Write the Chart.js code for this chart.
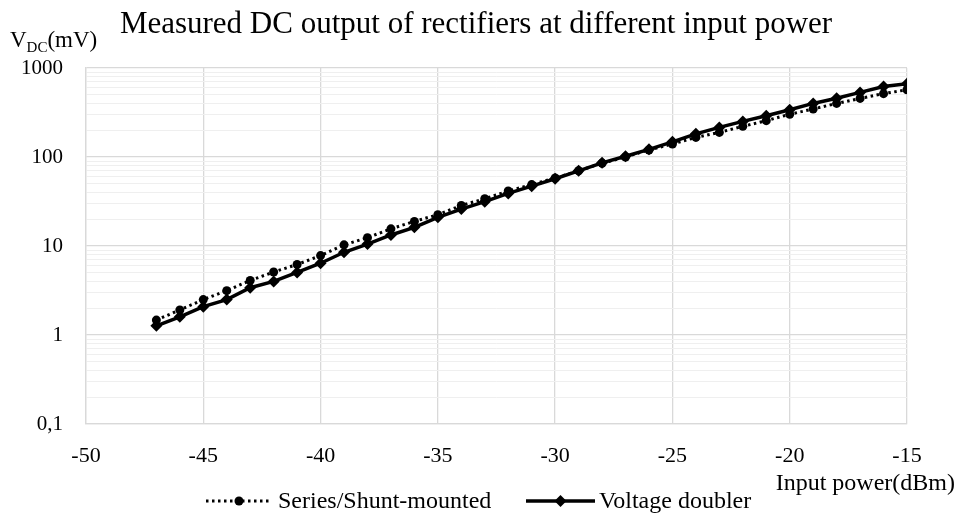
<!DOCTYPE html>
<html>
<head>
<meta charset="utf-8">
<script src="https://cdn.jsdelivr.net/npm/chart.js@4"></script>
<style>
  html, body { margin: 0; padding: 0; background: #fff; }
  #wrap { width: 963px; height: 515px; }
</style>
</head>
<body>
<div id="wrap"><canvas id="c" width="963" height="515"></canvas></div>
<script>
// input power (dBm)
const inputPower = [-47, -46, -45, -44, -43, -42, -41, -40, -39, -38, -37, -36, -35, -34, -33, -32,
  -31, -30, -29, -28, -27, -26, -25, -24, -23, -22, -21, -20, -19, -18, -17, -16, -15];

// V_DC (mV)
const seriesShunt = [1.47, 1.91, 2.5, 3.15, 4.1, 5.1, 6.2, 7.8, 10.3, 12.4, 15.6, 18.9, 22.5, 28.5, 34, 41.5,
  49, 58, 70, 85, 100, 120, 140, 166, 189, 221, 256, 302, 346, 400, 455, 515, 570];
const voltageDoubler = [1.27, 1.6, 2.08, 2.5, 3.4, 4.0, 5.05, 6.4, 8.5, 10.5, 13.3, 16.2, 21, 26, 31.5, 39,
  47, 57, 70, 86, 102, 122, 148, 182, 215, 251, 291, 340, 400, 457, 532, 620, 665];

const xTicks = [-50, -45, -40, -35, -30, -25, -20, -15];
const yDecades = [0.1, 1, 10, 100, 1000];

const serif = "'Liberation Serif', 'Times New Roman', serif";

function pts(vals) {
  return inputPower.map((p, i) => ({ x: p, y: vals[i] }));
}

// all log gridline values (major + minor)
const yGridVals = [];
for (let d = 0; d < yDecades.length - 1; d++) {
  for (let k = 1; k < 10; k++) yGridVals.push(+(yDecades[d] * k).toPrecision(3));
}
yGridVals.push(1000);

const textPlugin = {
  id: 'texts',
  afterDraw(chart) {
    const ctx = chart.ctx;
    ctx.save();
    ctx.fillStyle = '#000';
    ctx.textBaseline = 'alphabetic';
    // title
    ctx.font = '31px ' + serif;
    ctx.textAlign = 'center';
    ctx.fillText('Measured DC output of rectifiers at different input power', 476, 33);
    // y axis title with subscript
    ctx.textAlign = 'left';
    ctx.font = '23px ' + serif;
    let x = 10;
    ctx.fillText('V', x, 47);
    x += ctx.measureText('V').width;
    ctx.font = '15px ' + serif;
    ctx.fillText('DC', x, 52);
    x += ctx.measureText('DC').width;
    ctx.font = '23px ' + serif;
    ctx.fillText('(mV)', x, 47);
    // x axis title
    ctx.font = '24px ' + serif;
    ctx.textAlign = 'right';
    ctx.fillText('Input power(dBm)', 955, 490);

    // legend
    const ly = 501;
    ctx.textAlign = 'left';
    ctx.textBaseline = 'middle';
    // series/shunt sample
    ctx.strokeStyle = '#000';
    ctx.lineWidth = 3;
    ctx.setLineDash([2.5, 3.5]);
    ctx.beginPath(); ctx.moveTo(206, ly); ctx.lineTo(270, ly); ctx.stroke();
    ctx.setLineDash([]);
    ctx.beginPath(); ctx.arc(239, ly, 4.5, 0, Math.PI * 2); ctx.fill();
    ctx.fillText('Series/Shunt-mounted', 278, ly + 1);
    // voltage doubler sample
    ctx.lineWidth = 3.5;
    ctx.beginPath(); ctx.moveTo(526, ly); ctx.lineTo(595, ly); ctx.stroke();
    ctx.beginPath();
    ctx.moveTo(560.5, ly - 6); ctx.lineTo(566.5, ly); ctx.lineTo(560.5, ly + 6); ctx.lineTo(554.5, ly);
    ctx.closePath(); ctx.fill();
    ctx.fillText('Voltage doubler', 599, ly + 1);
    ctx.restore();
  }
};

new Chart(document.getElementById('c'), {
  type: 'line',
  data: {
    datasets: [
      {
        label: 'Series/Shunt-mounted',
        data: pts(seriesShunt),
        borderColor: '#000',
        backgroundColor: '#000',
        borderWidth: 3,
        borderDash: [2.5, 3.5],
        pointStyle: 'circle',
        pointRadius: 4.5,
        pointBorderWidth: 0,
        tension: 0
      },
      {
        label: 'Voltage doubler',
        data: pts(voltageDoubler),
        borderColor: '#000',
        backgroundColor: '#000',
        borderWidth: 3.5,
        pointStyle: 'rectRot',
        pointRadius: 6,
        pointBorderWidth: 0,
        tension: 0
      }
    ]
  },
  options: {
    responsive: false,
    animation: false,
    layout: { padding: { left: 0, top: 68, right: 56, bottom: 0 } },
    plugins: {
      legend: { display: false },
      title: { display: false },
      tooltip: { enabled: false }
    },
    scales: {
      x: {
        type: 'linear',
        min: -50,
        max: -15,
        afterFit(s) { s.height = 91; },
        afterBuildTicks(s) { s.ticks = xTicks.map(v => ({ value: v })); },
        grid: { color: '#d9d9d9', lineWidth: 1.3, drawTicks: false },
        border: { color: '#d9d9d9', width: 1.3 },
        ticks: {
          color: '#000',
          font: { family: serif, size: 22 },
          padding: 19,
          maxRotation: 0,
          callback: v => String(v)
        }
      },
      y: {
        type: 'logarithmic',
        min: 0.1,
        max: 1000,
        afterFit(s) { s.width = 86; },
        afterBuildTicks(s) { s.ticks = yGridVals.map(v => ({ value: v })); },
        grid: {
          drawTicks: false,
          color: ctx => yDecades.includes(ctx.tick.value) ? '#d9d9d9' : '#efefef',
          lineWidth: ctx => yDecades.includes(ctx.tick.value) ? 1.3 : 1
        },
        border: { color: '#d9d9d9', width: 1.3 },
        ticks: {
          color: '#000',
          autoSkip: false,
          font: { family: serif, size: 21 },
          padding: 23,
          callback: v => yDecades.includes(v) ? String(v).replace('.', ',') : ''
        }
      }
    }
  },
  plugins: [textPlugin]
});
</script>
</body>
</html>
